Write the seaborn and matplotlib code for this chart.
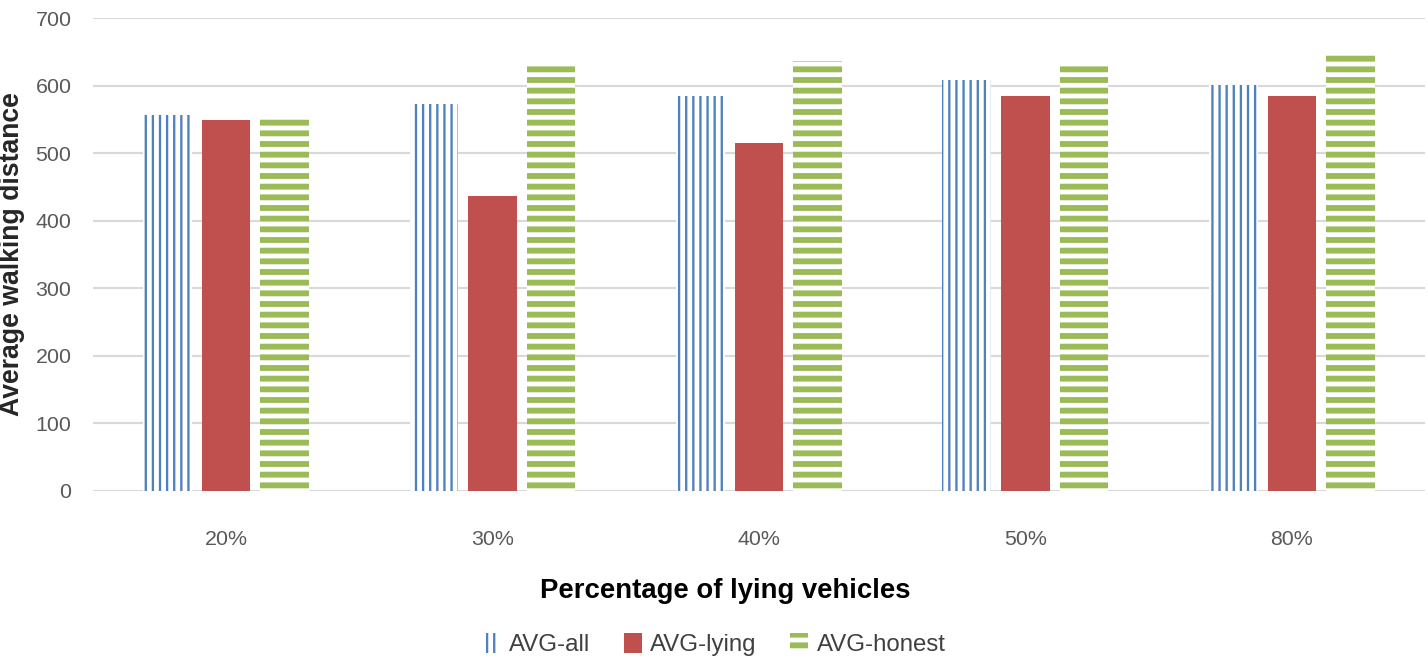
import matplotlib
matplotlib.use("Agg")
import matplotlib.pyplot as plt
import seaborn as sns
import pandas as pd

categories = ["20%", "30%", "40%", "50%", "80%"]
avg_all = [556, 573, 585, 608, 601]
avg_lying = [549, 436, 515, 585, 585]
avg_honest = [557, 630, 636, 632, 651]
series_names = ["AVG-all", "AVG-lying", "AVG-honest"]

df = pd.DataFrame({
    "cat": categories * 3,
    "value": avg_all + avg_lying + avg_honest,
    "series": [series_names[0]] * 5 + [series_names[1]] * 5 + [series_names[2]] * 5,
})

sns.set_style("white")
plt.rcParams["font.family"] = ["Liberation Sans Narrow", "Liberation Sans", "DejaVu Sans"]

DPI = 128
fig = plt.figure(figsize=(1428 / DPI, 668 / DPI), dpi=DPI)
ax = fig.add_axes([0.065, 0.265, 0.933, 0.708])

colors = {"AVG-all": "#4f81bd", "AVG-lying": "#c0504d", "AVG-honest": "#9bbb59"}
sns.barplot(data=df, x="cat", y="value", hue="series", hue_order=series_names,
            palette=colors, width=0.66, gap=0.17, legend=False, ax=ax, zorder=3)

styles = [
    dict(face="white", edge="#4f81bd", hatch="|||", hlw=1.3),
    dict(face="#c0504d", edge="#c0504d", hatch=None, hlw=1.0),
    dict(face="white", edge="#9bbb59", hatch="--", hlw=3.3),
]


def style_patch(p, st):
    p.set_facecolor(st["face"])
    p.set_edgecolor(st["edge"])
    p.set_linewidth(0)
    if st["hatch"]:
        if hasattr(p, "set_hatch_linewidth"):
            p.set_hatch_linewidth(st["hlw"])
        p.set_hatch(st["hatch"])


for cont, st in zip(ax.containers, styles):
    for p in cont:
        style_patch(p, st)
        p.set_zorder(3)

ax.set_ylim(0, 700)
ax.set_yticks(range(0, 701, 100))
ax.grid(axis="y", color="#d9d9d9", linewidth=1.2, zorder=0)
ax.set_axisbelow(True)
for s in ax.spines.values():
    s.set_visible(False)
ax.tick_params(axis="both", length=0, labelsize=12, colors="#595959")
ax.tick_params(axis="x", pad=22)
ax.tick_params(axis="y", pad=12)
ax.set_xlim(-0.5, 4.5)

ax.set_xlabel("Percentage of lying vehicles", fontsize=15.5, fontweight="bold",
              color="black", labelpad=22)
ax.xaxis.set_label_coords(0.475, -0.185)
ax.set_ylabel("Average walking distance", fontsize=15, fontweight="bold",
              color="#262626", labelpad=6)

handles = [c[0] for c in ax.containers]
leg = fig.legend(handles=handles, labels=series_names, loc="center",
                 bbox_to_anchor=(0.5, 0.035), ncol=3, frameon=False,
                 fontsize=13.5, handlelength=0.75, handleheight=0.9,
                 handletextpad=0.35, columnspacing=1.4)
for h, st in zip(leg.legend_handles, styles):
    style_patch(h, st)
for t in leg.get_texts():
    t.set_color("#404040")

fig.savefig("out.png", dpi=DPI)
